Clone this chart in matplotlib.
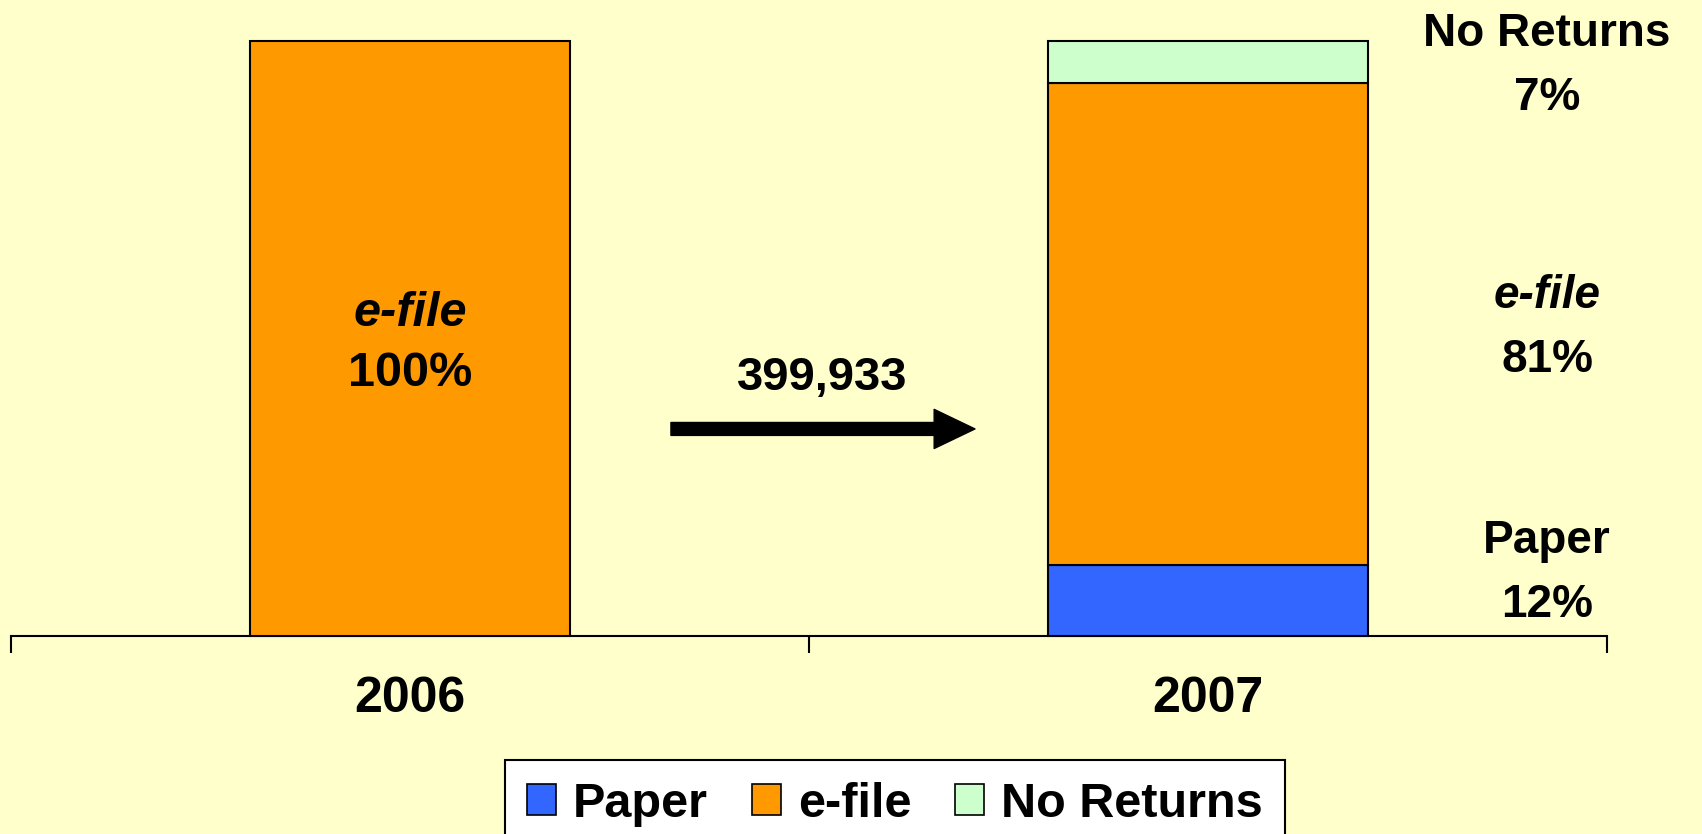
import numpy as np
import matplotlib
matplotlib.use("Agg")
import matplotlib.pyplot as plt
from matplotlib.patches import Patch

plt.rcParams["font.family"] = ["Liberation Sans", "DejaVu Sans"]

# ---------------------- 数据 ----------------------
years = ["2006", "2007"]
paper = [0, 12]
efile = [100, 81]
no_returns = [0, 7]
change_label = "399,933"

series_names = ["Paper", "e-file", "No Returns"]
colors = ["#3366FF", "#FF9900", "#CCFFCC"]
bg = "#FFFFCC"

W, H = 1702, 834
fig = plt.figure(figsize=(W / 100, H / 100), dpi=100, facecolor=bg)
ax = fig.add_axes([11 / W, (H - 636) / H, (1607 - 11) / W, (636 - 41) / H])
ax.set_facecolor(bg)

x = np.arange(len(years))
bw = 0.4
bottoms = np.zeros(len(years))
for vals, c in zip([paper, efile, no_returns], colors):
    v = np.array(vals, dtype=float)
    mask = v > 0
    ax.bar(x[mask], v[mask], bw, bottom=bottoms[mask], color=c,
           edgecolor="black", linewidth=1.5, clip_on=False, zorder=3)
    bottoms += v

ax.set_xlim(-0.5, 1.5)
ax.set_ylim(0, 100)

# 坐标轴样式
for s in ["top", "left", "right"]:
    ax.spines[s].set_visible(False)
ax.spines["bottom"].set_linewidth(1.5)
ax.set_yticks([])
ax.set_xticks(x)
ax.set_xticklabels(years, fontsize=36, fontweight="bold")
ax.tick_params(axis="x", which="major", length=0, pad=29)
ax.set_xticks([-0.5, 0.5, 1.5], minor=True)
ax.tick_params(axis="x", which="minor", length=12, width=1.5, direction="out")


def two_line(xv, yv, name, pct, size, gap, italic, shift=-4.5):
    # 两行标签：名称 + 百分比
    ax.annotate(name, (xv, yv), xytext=(0, gap / 2 + shift), textcoords="offset pixels",
                ha="center", va="center", fontsize=size, fontweight="bold",
                style="italic" if italic else "normal", annotation_clip=False, zorder=4)
    ax.annotate("%d%%" % pct, (xv, yv), xytext=(0, -gap / 2 + shift), textcoords="offset pixels",
                ha="center", va="center", fontsize=size, fontweight="bold",
                annotation_clip=False, zorder=4)


# 2006 柱内标签
two_line(0, efile[0] / 2, "e-file", efile[0], 35, 60, True)

# 2007 右侧标签
lab_x = 1.425
b = 0.0
for name, v in zip(series_names, [paper[1], efile[1], no_returns[1]]):
    ymid = max(b + v / 2, 11.3)
    two_line(lab_x, ymid, name, v, 33, 64, name == "e-file")
    b += v

# 箭头
ax.annotate("", xy=(0.708, 34.8), xytext=(0.327, 34.8),
            arrowprops=dict(arrowstyle="simple,head_length=0.98,head_width=0.94,tail_width=0.31",
                            mutation_scale=30, color="black", shrinkA=0, shrinkB=0))
ax.text(0.516, 43.4, change_label, ha="center", va="center", fontsize=34, fontweight="bold")

# 图例
handles = [Patch(facecolor=c, edgecolor="black", linewidth=1.2) for c in colors]
leg = fig.legend(handles, series_names, loc="upper center", ncol=3,
                 bbox_to_anchor=(895 / W, 1 - 760 / H), borderaxespad=0,
                 prop={"weight": "bold", "size": 35}, frameon=True, fancybox=False,
                 edgecolor="black", facecolor="white", framealpha=1,
                 handlelength=0.6, handleheight=0.6, handletextpad=0.35,
                 columnspacing=0.9, borderpad=0.45)
leg.get_frame().set_linewidth(1.5)

fig.savefig("out.png", dpi=100, facecolor=bg)
